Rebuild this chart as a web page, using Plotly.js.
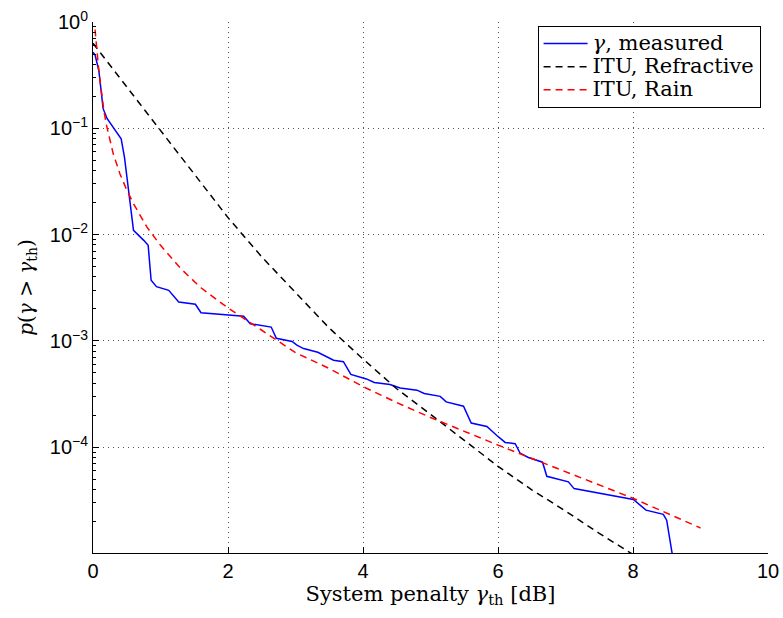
<!DOCTYPE html>
<html>
<head>
<meta charset="utf-8">
<script src="https://cdn.plot.ly/plotly-3.0.1.min.js"></script>
<style>html,body{margin:0;padding:0;background:#fff;}</style>
</head>
<body>
<div id="chart" style="width:783px;height:618px;"></div>
<script>
// Measured system penalty exceedance
const measX = [0, 0.03, 0.086, 0.15, 0.21, 0.417, 0.466, 0.60, 0.752, 0.817, 0.861, 0.94, 1.122, 1.187, 1.27, 1.517, 1.60, 2.232, 2.33, 2.64, 2.716, 2.95, 3.02, 3.12, 3.33, 3.564, 3.71, 3.82, 4.05, 4.167, 4.40, 4.55, 4.80, 4.907, 5.144, 5.232, 5.489, 5.603, 5.835, 5.983, 6.106, 6.254, 6.328, 6.45, 6.66, 6.723, 7.043, 7.127, 7.611, 8.005, 8.193, 8.449, 8.499, 8.58];
const measP = [0.520, 0.490, 0.350, 0.153, 0.123, 0.0798, 0.0536, 0.01096, 0.00883, 0.00794, 0.00372, 0.00324, 0.00299, 0.00269, 0.00232, 0.00221, 0.00184, 0.00171, 0.00145, 0.00135, 0.00106, 9.89e-4, 9.12e-4, 8.47e-4, 7.82e-4, 6.58e-4, 6.38e-4, 4.84e-4, 4.39e-4, 4.07e-4, 3.89e-4, 3.61e-4, 3.44e-4, 3.20e-4, 3.01e-4, 2.67e-4, 2.43e-4, 1.69e-4, 1.57e-4, 1.29e-4, 1.11e-4, 1.08e-4, 8.77e-5, 8.0e-5, 7.23e-5, 5.33e-5, 4.72e-5, 4.08e-5, 3.61e-5, 3.22e-5, 2.56e-5, 2.34e-5, 2.06e-5, 1.0e-5];

// ITU refractive model
const refX = [0, 0.5, 1, 1.5, 2, 2.5, 3, 3.5, 4, 4.5, 5, 5.5, 6, 6.5, 7, 7.5, 8];
const refP = [0.631, 0.245, 0.0955, 0.0372, 0.01445, 0.00617, 0.00282, 0.00132, 6.76e-4, 3.55e-4, 2.04e-4, 1.15e-4, 6.61e-5, 3.98e-5, 2.51e-5, 1.55e-5, 9.8e-6];

// ITU rain model
const rainX = [0.03, 0.05, 0.08, 0.11, 0.16, 0.2, 0.26, 0.3, 0.4, 0.5, 0.6, 0.8, 1.0, 1.3, 1.6, 2.0, 2.5, 3.0, 3.5, 4.0, 4.5, 5.0, 6.0, 7.0, 8.0, 9.0];
const rainP = [0.851, 0.603, 0.380, 0.263, 0.148, 0.107, 0.0724, 0.0575, 0.0372, 0.0263, 0.0195, 0.01175, 0.00794, 0.00479, 0.00316, 0.00204, 0.00126, 7.76e-4, 5.50e-4, 3.72e-4, 2.63e-4, 1.905e-4, 1.047e-4, 5.89e-5, 3.31e-5, 1.74e-5];

const names = ['<i>γ</i>, measured', 'ITU, Refractive', 'ITU, Rain'];
const xTicks = [0, 2, 4, 6, 8, 10];
const yTickVals = [1, 1e-1, 1e-2, 1e-3, 1e-4];
const yTickText = ['10<sup>0</sup>', '10<sup>−1</sup>', '10<sup>−2</sup>', '10<sup>−3</sup>', '10<sup>−4</sup>'];

// minor tick positions for the log axis (2..9 × each decade)
const yMinor = [];
for (let e = -5; e < 0; e++) for (let m = 2; m <= 9; m++) yMinor.push(m * Math.pow(10, e));

const big = s => '<span style="font-size:21px">' + s + '</span>';

const traces = [
  {x: measX, y: measP, name: big(names[0]), mode: 'lines', line: {color: '#0000ff', width: 1.5}},
  {x: refX, y: refP, name: big(names[1]), mode: 'lines', line: {color: '#000000', width: 1.5, dash: '7px,5px'}},
  {x: rainX, y: rainP, name: big(names[2]), mode: 'lines', line: {color: '#ff0000', width: 1.5, dash: '7px,5px'}},
  {x: [null], y: [null], yaxis: 'y2', showlegend: false, hoverinfo: 'skip', mode: 'lines'}
];

const serif = '"DejaVu Serif", "Liberation Serif", serif';
const sans = '"Liberation Sans", Arial, sans-serif';
const yRange = [-4.995, 0];

const layout = {
  width: 783, height: 618,
  margin: {l: 92.5, r: 15, t: 21.5, b: 64.7},
  paper_bgcolor: '#fff', plot_bgcolor: '#fff',
  showlegend: true,
  legend: {
    x: 0.989, y: 0.9925, xanchor: 'right', yanchor: 'top',
    bordercolor: '#000', borderwidth: 1, bgcolor: '#fff',
    font: {family: serif, size: 15.5, color: '#000'},
    tracegroupgap: 0, itemwidth: 44
  },
  xaxis: {
    range: [0, 10], tickvals: xTicks, ticktext: xTicks.map(String),
    ticks: 'inside', ticklen: 6, tickcolor: '#000',
    showline: true, linecolor: '#000', linewidth: 1,
    showgrid: true, gridcolor: '#555', griddash: '1px,4px', gridwidth: 1,
    zeroline: false,
    tickfont: {family: sans, size: 20, color: '#000'},
    title: {text: 'System penalty <i>γ</i><sub>th</sub> [dB]', font: {family: serif, size: 21, color: '#000'}, standoff: 4}
  },
  yaxis: {
    type: 'log', range: yRange,
    tickmode: 'array', tickvals: yTickVals, ticktext: yTickText,
    ticks: 'inside', ticklen: 6, tickcolor: '#000',
    showline: true, linecolor: '#000', linewidth: 1,
    showgrid: true, gridcolor: '#555', griddash: '1px,4px', gridwidth: 1,
    zeroline: false,
    tickfont: {family: sans, size: 20, color: '#000'},
    title: {text: '<i>p</i>(<i>γ</i> &gt; <i>γ</i><sub>th</sub>)', font: {family: serif, size: 20, color: '#000'}, standoff: 10}
  },
  yaxis2: {
    type: 'log', range: yRange, overlaying: 'y', side: 'left', anchor: 'x',
    tickmode: 'array', tickvals: yMinor, showticklabels: false,
    ticks: 'inside', ticklen: 3, tickcolor: '#000',
    showgrid: false, zeroline: false, showline: false
  }
};

Plotly.newPlot('chart', traces, layout, {displayModeBar: false, staticPlot: true});
</script>
</body>
</html>
